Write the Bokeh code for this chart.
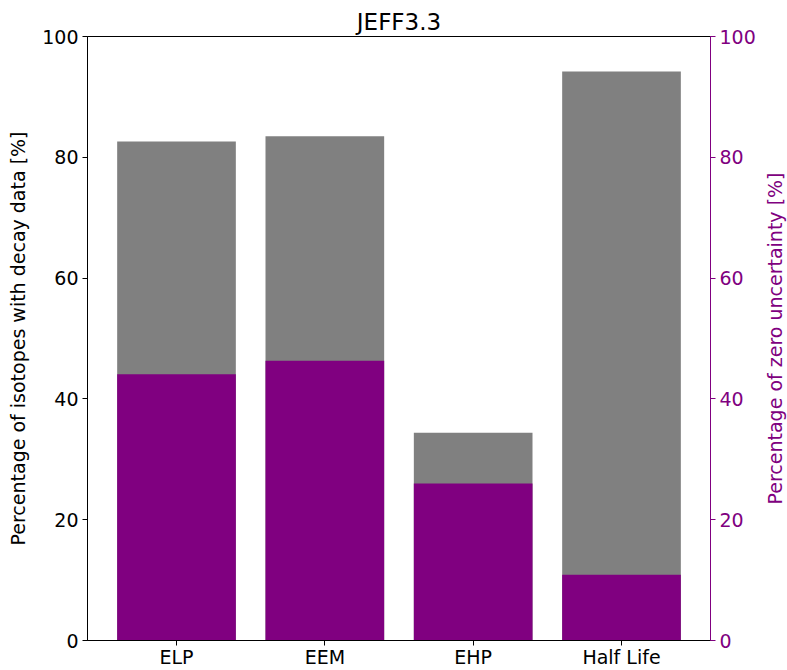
import math
from bokeh.plotting import figure
from bokeh.layouts import row
from bokeh.models import Range1d, LinearAxis, FixedTicker, ColumnDataSource
from bokeh.core.properties import value
from bokeh.embed import file_html
from bokeh.resources import INLINE

categories = ["ELP", "EEM", "EHP", "Half Life"]
decay_data_pct = [82.6, 83.5, 34.4, 94.2]
zero_unc_pct = [44.1, 46.3, 26.0, 10.9]
yticks = [0, 20, 40, 60, 80, 100]
right_label = "Percentage of zero uncertainty [%]"

xpos = list(range(len(categories)))
src = ColumnDataSource(dict(x=xpos, decay=decay_data_pct, zero=zero_unc_pct))

FONT = "DejaVu Sans"
PURPLE = "#800080"
FS = "19px"
X_LO, X_HI = -0.6, 3.6

p = figure(width=761, height=670, output_backend="svg", toolbar_location=None,
           x_range=Range1d(X_LO, X_HI), y_range=Range1d(0, 100),
           title="JEFF3.3", min_border_left=87, min_border_right=51,
           min_border_top=36, min_border_bottom=28)
p.extra_y_ranges = {"right": Range1d(0, 100)}

p.vbar(x="x", top="decay", width=0.8, bottom=0, source=src, color="#808080", line_color=None)
p.vbar(x="x", top="zero", width=0.8, bottom=0, source=src, color=PURPLE, line_color=None)

p.grid.visible = False
p.outline_line_color = "black"
p.outline_line_width = 1
p.title.align = "center"
p.title.text_font = FONT
p.title.text_font_style = "normal"
p.title.text_font_size = "23px"
p.title.text_color = "black"
p.title.standoff = 4

ax = p.xaxis[0]
ax.ticker = FixedTicker(ticks=xpos)
ax.major_label_overrides = {i: c for i, c in enumerate(categories)}
ax.major_label_text_font = FONT
ax.major_label_text_font_size = FS
ax.major_label_text_color = "black"
ax.major_label_standoff = 0
ax.axis_line_color = "black"
ax.major_tick_out = 5
ax.major_tick_in = 0
ax.minor_tick_line_color = None

ly = p.yaxis[0]
ly.ticker = FixedTicker(ticks=yticks)
ly.axis_label = "Percentage of isotopes with decay data [%]"
ly.axis_label_text_font = FONT
ly.axis_label_text_font_style = "normal"
ly.axis_label_text_font_size = FS
ly.axis_label_text_color = "black"
ly.major_label_text_font = FONT
ly.major_label_text_font_size = FS
ly.major_label_text_color = "black"
ly.major_label_standoff = 4
ly.major_tick_out = 5
ly.major_tick_in = 0
ly.minor_tick_line_color = None
ly.axis_label_standoff = 10

ry = LinearAxis(y_range_name="right", ticker=FixedTicker(ticks=yticks))
ry.axis_line_color = PURPLE
ry.major_tick_line_color = PURPLE
ry.major_tick_out = 5
ry.major_tick_in = 0
ry.minor_tick_line_color = None
ry.major_label_text_color = PURPLE
ry.major_label_text_font = FONT
ry.major_label_text_font_size = FS
ry.major_label_standoff = 4
p.add_layout(ry, "right")

# narrow companion figure carrying the right-axis title (reads bottom-to-top)
p2 = figure(width=26, height=670, output_backend="svg", toolbar_location=None,
            x_range=Range1d(0, 1), y_range=p.extra_y_ranges["right"],
            x_axis_type=None, y_axis_type=None,
            min_border_left=0, min_border_right=0,
            min_border_top=36, min_border_bottom=28)
p2.outline_line_color = None
p2.grid.visible = False
p2.text(x=[0.5], y=[50], text=[right_label], angle=math.pi / 2,
        text_align="center", text_baseline="middle",
        text_font=value(FONT), text_font_size=FS, text_color=PURPLE)

layout = row(p, p2, spacing=0)

open("out.html", "w").write(file_html(layout, INLINE))
